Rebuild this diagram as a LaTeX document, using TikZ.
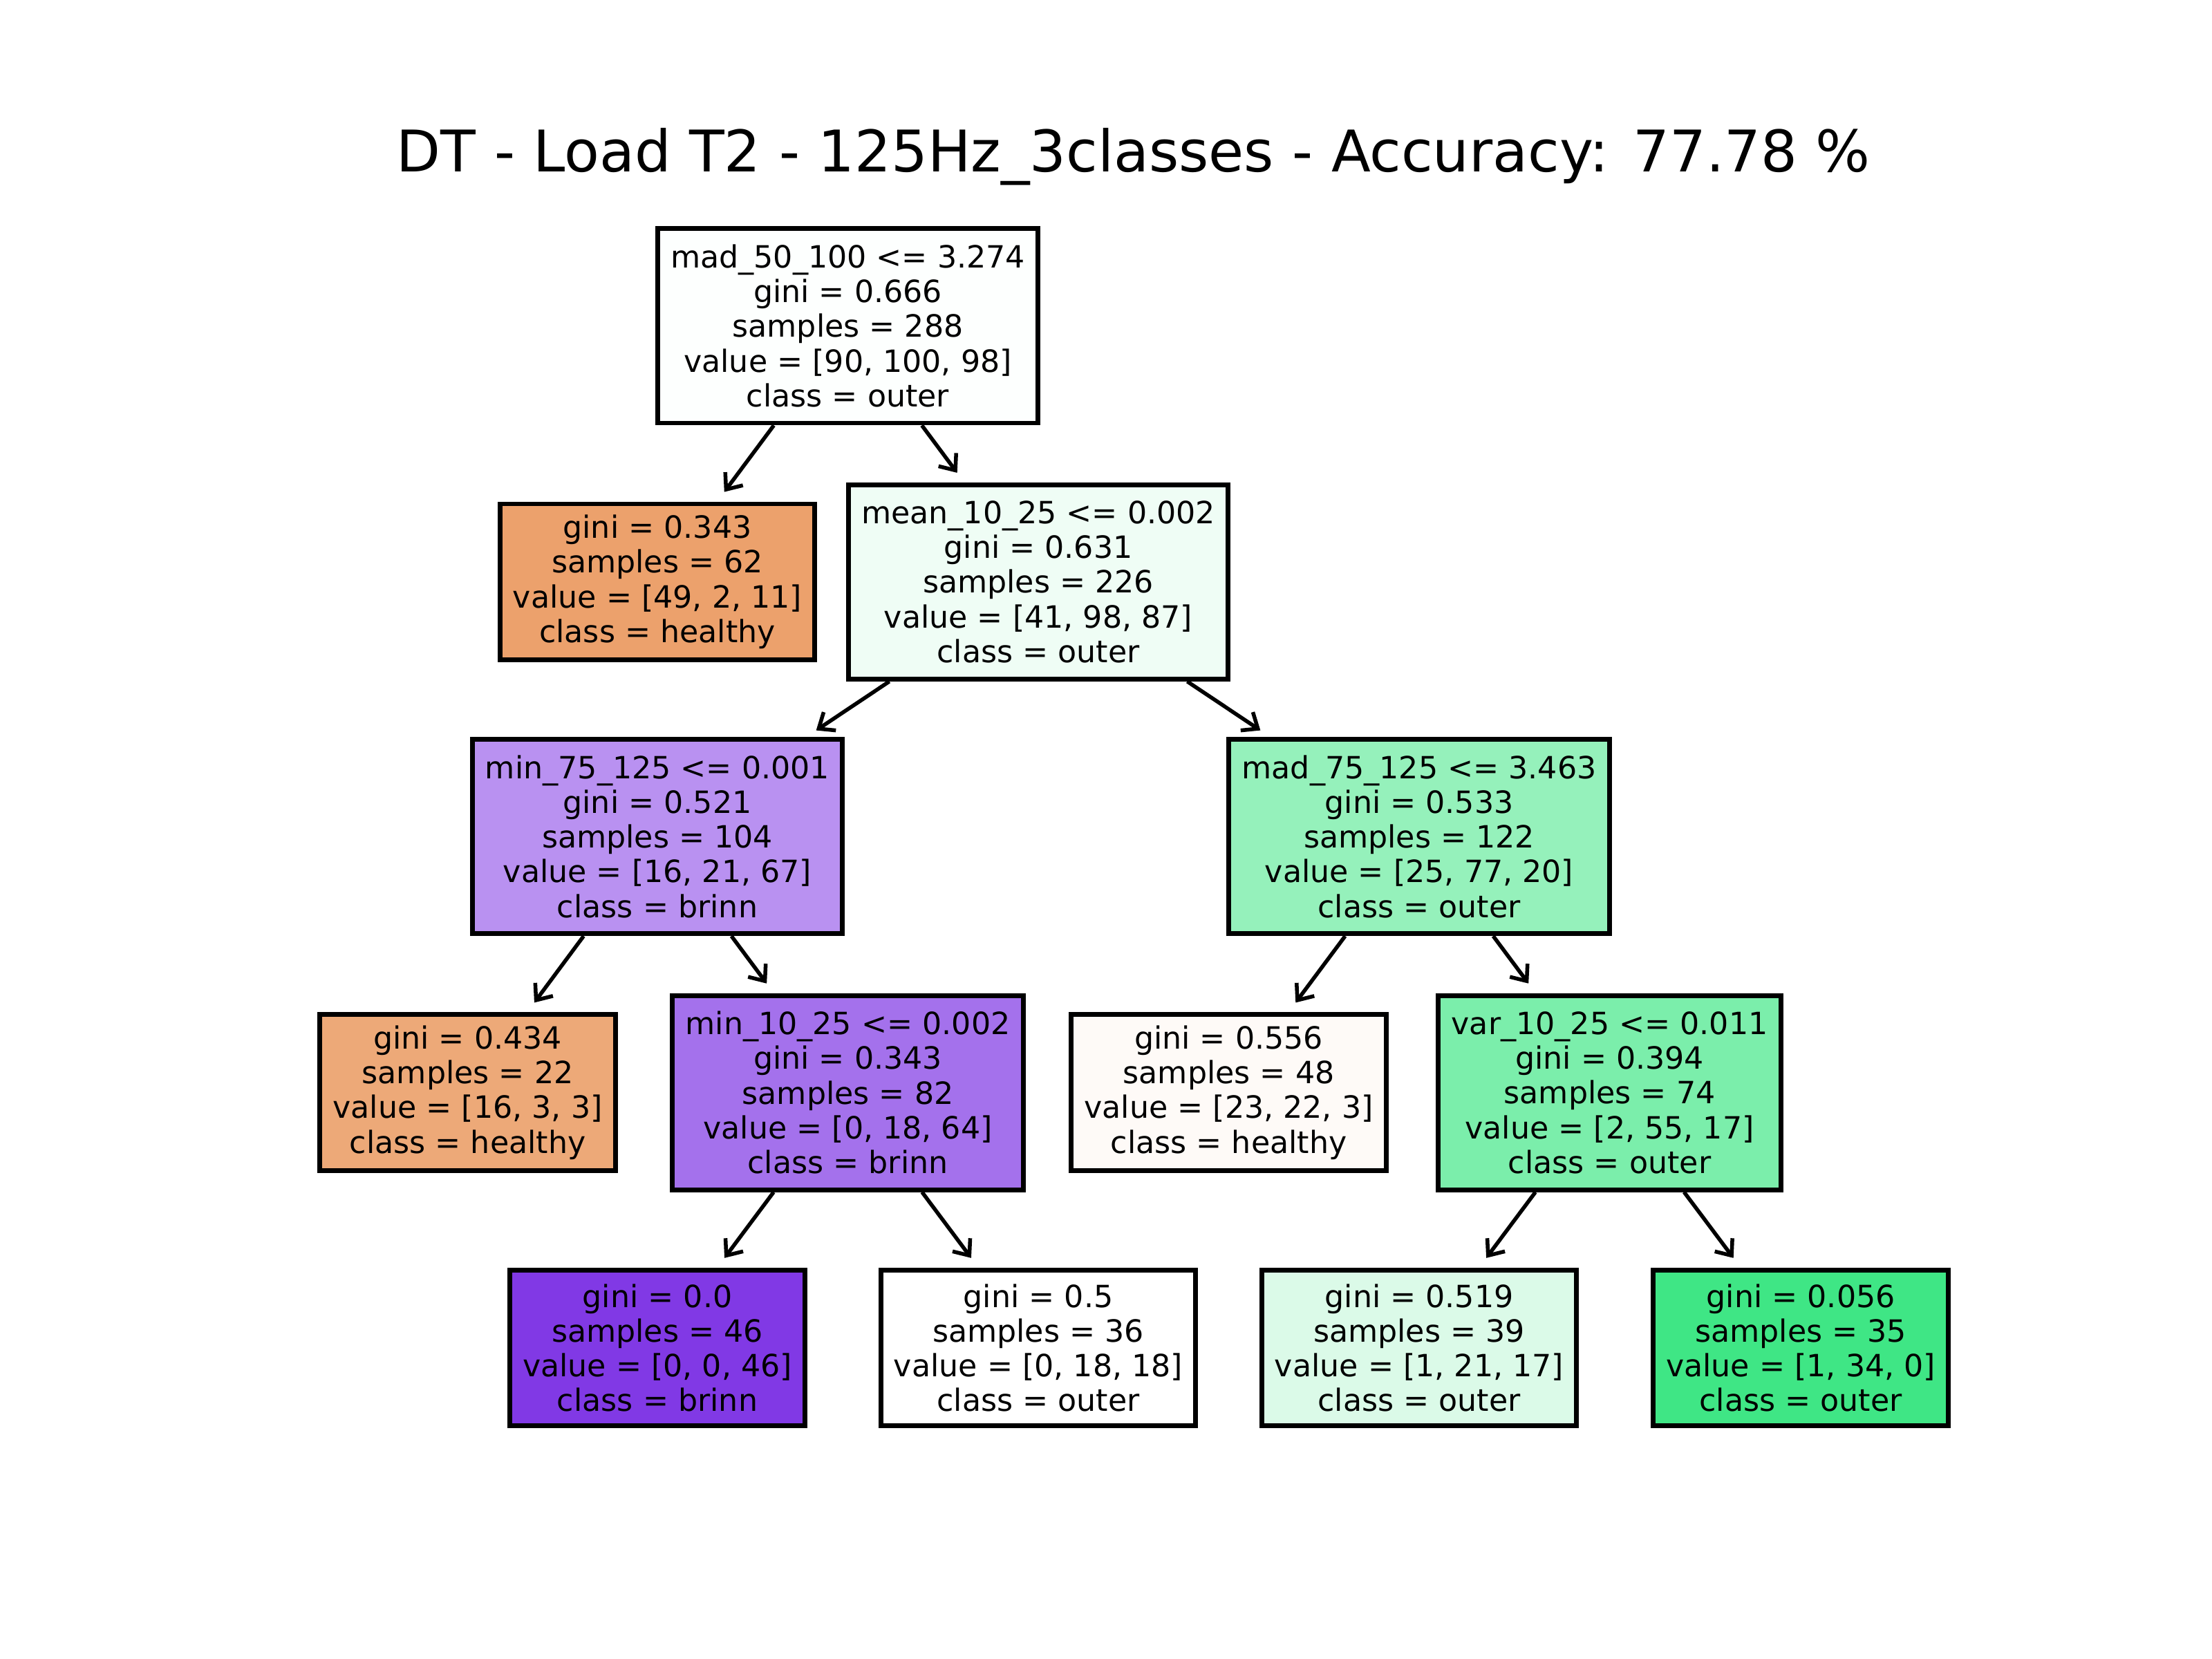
\documentclass[tikz,border=0pt]{standalone}
\usepackage{fontspec}
\setmainfont{DejaVu Sans}
\usetikzlibrary{arrows.meta}

\definecolor{cRoot}{HTML}{FDFFFE}
\definecolor{cHealthyA}{HTML}{ECA16C}
\definecolor{cMean}{HTML}{EFFDF5}
\definecolor{cMinA}{HTML}{B991F1}
\definecolor{cMadB}{HTML}{95F1BB}
\definecolor{cHealthyB}{HTML}{EDA978}
\definecolor{cMinB}{HTML}{A471EC}
\definecolor{cHealthyC}{HTML}{FEFAF7}
\definecolor{cVar}{HTML}{7BEEAB}
\definecolor{cBrinn}{HTML}{8139E5}
\definecolor{cOuterA}{HTML}{FFFFFF}
\definecolor{cOuterB}{HTML}{DBFAE8}
\definecolor{cOuterC}{HTML}{3FE685}

\tikzset{
    treenode/.style = {draw, line width=1pt, align=center, inner xsep=2.7pt, inner ysep=1pt,
                       font=\fontsize{6.4}{7.26}\selectfont},
    splitnode/.style = {treenode, minimum height=40.6pt},
    leafnode/.style = {treenode, minimum height=32.6pt},
    treeedge/.style = {->, >={Straight Barb[length=2.8pt, width=4.6pt]}, line width=0.8pt, shorten >=2.5pt}
}

\begin{document}
\begin{tikzpicture}[x=0.010367cm, y=-0.010367cm]
    \useasboundingbox (0,0) rectangle (1568,1176);
    \node[anchor=base, font=\fontsize{12}{14}\selectfont] (title) at (803.5,122)
        {DT - Load T2 - 125Hz\_3classes - Accuracy: 77.78 \%};

    \node[splitnode, fill=cRoot] (n0) at (601,231)
        {mad\_50\_100 <= 3.274\\gini = 0.666\\samples = 288\\value = [90, 100, 98]\\class = outer};
    \node[leafnode, fill=cHealthyA] (n1) at (466,412.5)
        {gini = 0.343\\samples = 62\\value = [49, 2, 11]\\class = healthy};
    \node[splitnode, fill=cMean] (n2) at (736,412.5)
        {mean\_10\_25 <= 0.002\\gini = 0.631\\samples = 226\\value = [41, 98, 87]\\class = outer};
    \node[splitnode, fill=cMinA] (n3) at (466,593)
        {min\_75\_125 <= 0.001\\gini = 0.521\\samples = 104\\value = [16, 21, 67]\\class = brinn};
    \node[splitnode, fill=cMadB] (n4) at (1006,593)
        {mad\_75\_125 <= 3.463\\gini = 0.533\\samples = 122\\value = [25, 77, 20]\\class = outer};
    \node[leafnode, fill=cHealthyB] (n5) at (331.5,774.5)
        {gini = 0.434\\samples = 22\\value = [16, 3, 3]\\class = healthy};
    \node[splitnode, fill=cMinB] (n6) at (601,774.5)
        {min\_10\_25 <= 0.002\\gini = 0.343\\samples = 82\\value = [0, 18, 64]\\class = brinn};
    \node[leafnode, fill=cHealthyC] (n7) at (871,774.5)
        {gini = 0.556\\samples = 48\\value = [23, 22, 3]\\class = healthy};
    \node[splitnode, fill=cVar] (n8) at (1141,774.5)
        {var\_10\_25 <= 0.011\\gini = 0.394\\samples = 74\\value = [2, 55, 17]\\class = outer};
    \node[leafnode, fill=cBrinn] (n9) at (466,955.5)
        {gini = 0.0\\samples = 46\\value = [0, 0, 46]\\class = brinn};
    \node[leafnode, fill=cOuterA] (n10) at (736,955.5)
        {gini = 0.5\\samples = 36\\value = [0, 18, 18]\\class = outer};
    \node[leafnode, fill=cOuterB] (n11) at (1006,955.5)
        {gini = 0.519\\samples = 39\\value = [1, 21, 17]\\class = outer};
    \node[leafnode, fill=cOuterC] (n12) at (1276.5,955.5)
        {gini = 0.056\\samples = 35\\value = [1, 34, 0]\\class = outer};

    \foreach \a/\b in {n0/n1, n0/n2, n2/n3, n2/n4, n3/n5, n3/n6, n4/n7, n4/n8, n6/n9, n6/n10, n8/n11, n8/n12}
        \draw[treeedge] (\a) -- (\b);
\end{tikzpicture}
\end{document}
